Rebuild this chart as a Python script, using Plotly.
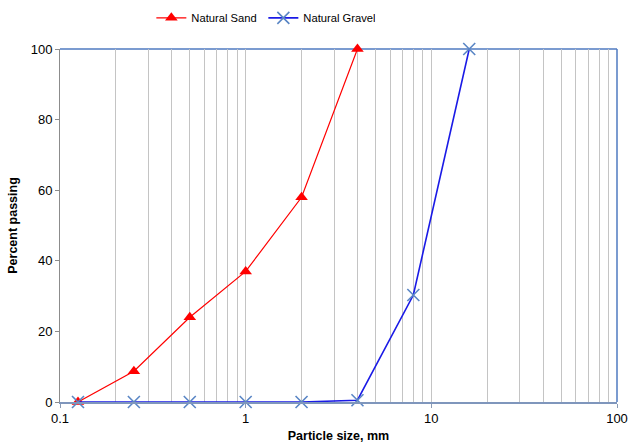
import plotly.graph_objects as go

# Sieve sizes (mm) and cumulative percent passing
sand_size = [0.125, 0.25, 0.5, 1, 2, 4]
sand_pass = [0, 8.7, 24, 37, 58, 100]

gravel_size = [0.125, 0.25, 0.5, 1, 2, 4, 8, 16]
gravel_pass = [0, 0, 0, 0, 0, 0.5, 30.3, 100]

x_major = [0.1, 1, 10, 100]
x_major_text = ["0.1", "1", "10", "100"]
y_ticks = [0, 20, 40, 60, 80, 100]

# all 1..9 multiples per decade for the vertical grid
x_minor = [m * d for d in (0.1, 1, 10) for m in range(2, 10)]

font = "Liberation Sans, Arial, sans-serif"

fig = go.Figure()
fig.add_trace(go.Scatter(
    x=sand_size, y=sand_pass, name="Natural Sand", mode="lines+markers",
    line=dict(color="#ff0000", width=1.2),
    marker=dict(symbol="triangle-up", size=11, color="#ff0000"),
    cliponaxis=False,
))
fig.add_trace(go.Scatter(
    x=gravel_size, y=gravel_pass, name="Natural Gravel", mode="lines+markers",
    line=dict(color="#1a1ae6", width=1.6),
    marker=dict(symbol="x-thin", size=12, line=dict(color="#5a86c5", width=1.6)),
    cliponaxis=False,
))

fig.update_layout(
    width=628, height=446,
    margin=dict(l=60, r=11, t=49, b=44, autoexpand=False),
    paper_bgcolor="white", plot_bgcolor="white",
    font=dict(family=font, size=13, color="#000000"),
    showlegend=True,
    legend=dict(orientation="h", x=0.164, xanchor="left", y=0.96, yanchor="middle",
                yref="container", font=dict(size=11.2), itemwidth=30,
                entrywidth=67),
    xaxis=dict(
        type="log", range=[-1, 2], automargin=False,
        tickvals=x_major, ticktext=x_major_text,
        ticks="outside", ticklen=4, tickcolor="#8b9bb4",
        showline=True, linecolor="#7f96bc", linewidth=1.5,
        showgrid=True, gridcolor="#c4c4c4", gridwidth=1,
        minor=dict(tickvals=x_minor, showgrid=True, gridcolor="#c4c4c4", gridwidth=1, ticks=""),
        title=dict(text="<b>Particle size, mm</b>", standoff=6, font=dict(size=12.5)),
        zeroline=False,
    ),
    yaxis=dict(
        range=[0, 100], tickvals=y_ticks, automargin=False,
        ticks="outside", ticklen=4, tickcolor="#8c8c8c",
        showline=True, linecolor="#8c8c8c", linewidth=1,
        showgrid=False, zeroline=False,
        title=dict(text="<b>Percent passing</b>", standoff=10, font=dict(size=12.5)),
    ),
)

# top and right edges of the plot frame
fig.add_shape(type="line", xref="paper", yref="paper", x0=0, x1=1, y0=1, y1=1,
              line=dict(color="#4f7ac0", width=1.5), layer="below")
fig.add_shape(type="line", xref="paper", yref="paper", x0=1, x1=1, y0=0, y1=1,
              line=dict(color="#4f7ac0", width=1.5), layer="below")

fig.write_html("out.html")
